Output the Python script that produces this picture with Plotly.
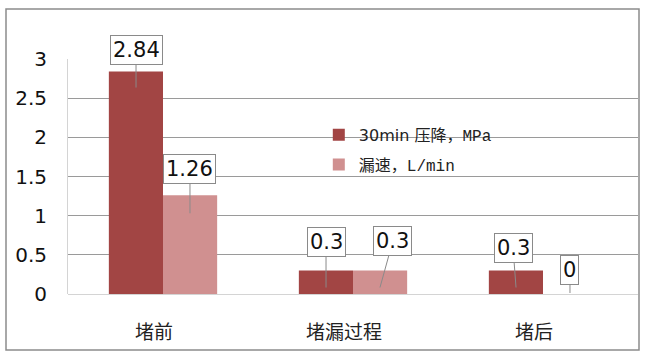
import plotly.graph_objects as go

categories = ["堵前", "堵漏过程", "堵后"]
pressure_drop = [2.84, 0.3, 0.3]
leak_rate = [1.26, 0.3, 0]
series_names = ["30min 压降，<span style=\"font-family:Liberation Mono\">MPa</span>",
                "漏速，<span style=\"font-family:Liberation Mono\">L/min</span>"]
y_ticks = [0, 0.5, 1, 1.5, 2, 2.5, 3]
y_ticktext = ["0", "0.5", "1", "1.5", "2", "2.5", "3"]

dark = "#A24544"
light = "#D09090"

fig = go.Figure()
fig.add_trace(go.Bar(x=categories, y=pressure_drop, name=series_names[0],
                     marker=dict(color=dark, line=dict(width=0)), legendgroup="a"))
fig.add_trace(go.Bar(x=categories, y=leak_rate, name=series_names[1],
                     marker=dict(color=light, line=dict(width=0)), legendgroup="b"))

# data-label callouts: (category index, series offset, value, ax, ay, tipdrop)
callouts = [
    (0, -0.142, pressure_drop[0], 0, -38, 16),
    (0, 0.142, leak_rate[0], 0, -44, 18),
    (1, -0.142, pressure_drop[1], 0, -46, 17),
    (1, 0.142, leak_rate[1], 13, -47, 17),
    (2, -0.142, pressure_drop[2], -3, -40, 17),
    (2, 0.142, leak_rate[2], 0, -23, -1),
]
for ci, off, val, ax, ay, drop in callouts:
    fig.add_annotation(
        x=ci + off, y=val, xref="x", yref="y",
        text=("%g" % val),
        showarrow=True, arrowhead=0, arrowwidth=1, arrowcolor="#8a8a8a",
        ax=ax, ay=ay, yshift=-drop,
        bgcolor="white", bordercolor="#8a8a8a", borderwidth=1, borderpad=2,
        font=dict(family="DejaVu Sans", size=21, color="#111"),
    )

# outer chart frame
fig.add_shape(type="rect", xref="paper", yref="paper",
              x0=(6 - 68) / 570, x1=(639 - 68) / 570,
              y0=(294 - 350) / 235, y1=(294 - 9) / 235,
              line=dict(color="#8c8c8c", width=1.5), fillcolor="rgba(0,0,0,0)", layer="below")

fig.update_layout(
    width=645, height=357,
    margin=dict(l=68, r=7, t=59, b=63),
    paper_bgcolor="white", plot_bgcolor="white",
    barmode="group", bargap=0.43, bargroupgap=0,
    showlegend=True,
    legend=dict(x=0.44, y=0.75, xanchor="left", yanchor="top",
                bgcolor="rgba(0,0,0,0)", tracegroupgap=6,
                font=dict(family="DejaVu Sans, Noto Sans CJK SC", size=16, color="#222")),
    xaxis=dict(type="category", range=[-0.5, 2.5], showgrid=False, showline=False,
               ticks="", tickfont=dict(family="Noto Sans CJK SC", size=19, color="#222"),
               ticklabelshift=-9, ticklabelstandoff=25),
    yaxis=dict(range=[0, 3], tickvals=y_ticks, ticktext=y_ticktext,
               showgrid=True, gridcolor="#9a9a9a", gridwidth=1,
               zeroline=True, zerolinecolor="#d4d4d4", zerolinewidth=1,
               showline=True, linecolor="#d4d4d4", linewidth=1,
               ticks="", ticklabelstandoff=16,
               tickfont=dict(family="DejaVu Sans", size=20, color="#111")),
    font=dict(family="DejaVu Sans, Noto Sans CJK SC"),
)

fig.write_html("out.html", config={"displayModeBar": False},
               post_script="document.body.style.margin='0';")
